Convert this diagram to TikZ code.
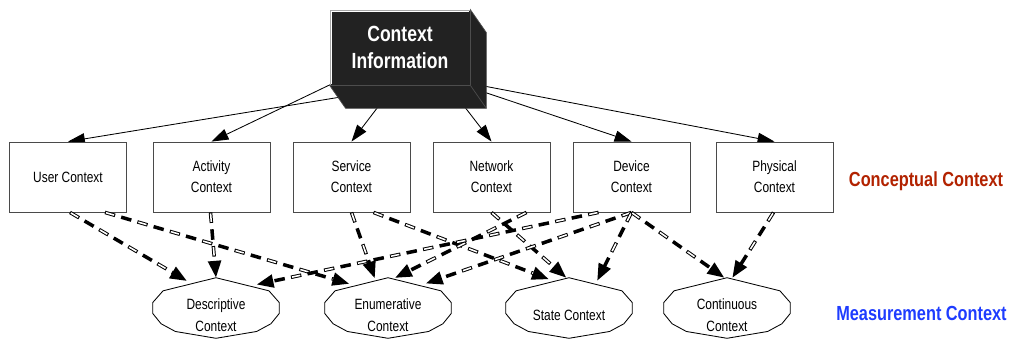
\documentclass[tikz,border=0pt]{standalone}
\usepackage{fontspec}
\setmainfont{Liberation Sans}[FakeStretch=0.8]
\usepackage{tikz}
\usetikzlibrary{arrows.meta,positioning,shapes.geometric,calc,backgrounds}
\definecolor{cdark}{HTML}{222222}
\definecolor{cedge}{HTML}{4A4A4A}
\definecolor{conred}{HTML}{B22200}
\definecolor{measblue}{HTML}{1E3CFF}
\tikzset{
  topbox/.style={fill=cdark,draw=gray!70,line width=0.5pt,minimum width=3.5cm,minimum height=1.875cm,
    text=white,align=center,font=\bfseries\fontsize{15.6}{19}\selectfont},
  cbox/.style={draw=cedge,fill=white,line width=0.6pt,minimum width=2.925cm,minimum height=1.75cm,
    align=center,inner sep=2pt,font=\fontsize{10.6}{15}\selectfont},
  mnode/.style={ellipse,minimum width=3.2cm,minimum height=1.5cm,inner sep=0pt},
  mtext/.style={align=center,font=\fontsize{10.6}{16}\selectfont,yshift=-5pt},
  mline/.style={draw=black,line width=0.6pt},
  tarr/.style={-{Triangle[length=12pt,width=8pt]},line width=0.6pt},
  darr/.style={-{Triangle[length=12pt,width=9pt]},line width=2.5pt,dash pattern=on 7.5pt off 4.5pt,
    postaction={draw=white,-,line width=1.1pt,dash pattern=on 6pt off 18pt,dash phase=23.25pt,shorten >=12pt}},
  sidelabel/.style={font=\bfseries\fontsize{14.5}{17}\selectfont}
}

\begin{document}
\begin{tikzpicture}[x=0.025cm,y=-0.025cm]
  \useasboundingbox (0,0) rectangle (1015,350);

  \node[topbox] (ci) at (400,47.5) {Context\\Information};
  \draw[fill=cdark,draw=gray!60!black,line width=0.5pt] (ci.south west) -- ($(ci.south west)+(16,23)$)
    -- ($(ci.south east)+(16,23)$) -- ($(ci.north east)+(16,23)$) -- (ci.north east) -- (ci.south east) -- cycle;
  \draw[gray!60!black,line width=0.5pt] (ci.south east) -- ($(ci.south east)+(16,23)$);
  \draw[white,line width=0.6pt] ($(ci.south west)+(1.5,-1.5)$) -- ($(ci.north west)+(1.5,1.5)$) -- ($(ci.north east)+(-1.5,1.5)$);

  \node[cbox] (user) at (68,177) {User Context};
  \node[cbox] (act) at (211.5,177) {Activity\\Context};
  \node[cbox] (serv) at (351.5,177) {Service\\Context};
  \node[cbox] (net) at (491.5,177) {Network\\Context};
  \node[cbox] (dev) at (631.5,177) {Device\\Context};
  \node[cbox] (phys) at (774.5,177) {Physical\\Context};

  \node[mnode,label={[mtext]center:Descriptive\\Context}] (desc) at (216,308) {};
  \node[mnode,label={[mtext]center:Enumerative\\Context}] (enum) at (388,308) {};
  \node[mnode,label={[mtext]center:State Context}] (state) at (569,308) {};
  \node[mnode,label={[mtext]center:Continuous\\Context}] (cont) at (727,308) {};
  \foreach \m in {desc,enum,state,cont}
    \draw[mline] (\m.90) -- (\m.162) -- (\m.175) -- (\m.185) -- (\m.196) -- (\m.210) -- (\m.270)
      -- (\m.330) -- (\m.344) -- (\m.355) -- (\m.5) -- (\m.18) -- cycle;

  \node[sidelabel,text=conred] (concept) at (926,181) {Conceptual Context};
  \node[sidelabel,text=measblue] (measure) at (921.5,313) {Measurement Context};

  \begin{scope}[on background layer]
    \draw[tarr] ($(ci.south)+(0,2)$) -- (user.north);
    \draw[tarr] ($(ci.south)+(-40,-15)$) -- (act.north);
    \draw[tarr] ($(ci.south)+(-10.5,6.5)$) -- (serv.north);
    \draw[tarr] ($(ci.south)+(55,9)$) -- (net.north);
    \draw[tarr] ($(ci.south)+(70,2)$) -- (dev.north);
    \draw[tarr] ($(ci.south)+(70,-2)$) -- (phys.north);
  \end{scope}

  \draw[darr] ($(user.south)+(2,0)$) -- (desc.137);
  \draw[darr] ($(user.south)+(37,0)$) -- (enum.148);
  \draw[darr] ($(act.south)+(-1,0)$) -- (desc.north);
  \draw[darr] (serv.south) -- (enum.114);
  \draw[darr] ($(serv.south)+(22,0)$) -- (state.125);
  \draw[darr] (net.south) -- (state.95);
  \draw[darr] ($(net.south)+(35,0)$) -- (enum.77);
  \draw[darr] ($(dev.south)+(-33,0)$) -- (desc.30);
  \draw[darr] (dev.south) -- (enum.33);
  \draw[darr] (dev.south) -- (state.44);
  \draw[darr] (dev.south) -- (cont.95);
  \draw[darr] ($(phys.south)+(-1,0)$) -- (cont.80);
\end{tikzpicture}
\end{document}
